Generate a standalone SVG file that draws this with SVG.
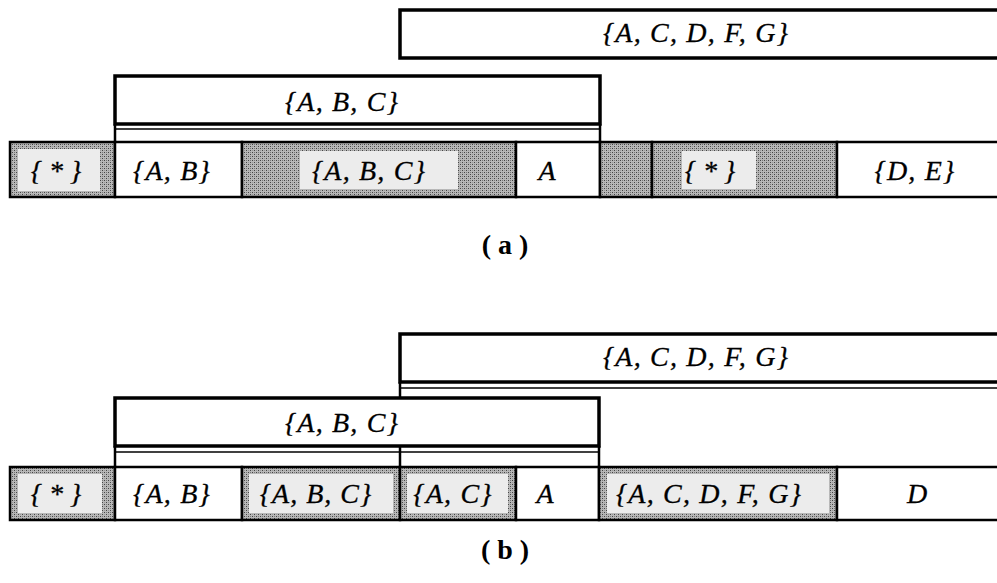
<svg xmlns="http://www.w3.org/2000/svg" width="997" height="583" viewBox="0 0 997 583">
<defs>
<pattern id="dither" width="4" height="4" patternUnits="userSpaceOnUse">
<rect width="4" height="4" fill="#b8b8b8"/>
<rect x="0" y="0" width="1" height="1" fill="#444"/>
<rect x="2" y="2" width="1" height="1" fill="#444"/>
<rect x="2" y="0" width="1" height="1" fill="#777"/>
<rect x="0" y="2" width="1" height="1" fill="#969696"/>
</pattern>
</defs>
<style>
.box{fill:#fff;stroke:#000;stroke-width:3.5}
.cell{fill:#fff;stroke:#000;stroke-width:2.5}
.shade{fill:url(#dither);stroke:#000;stroke-width:2.5}
.inner{fill:#ececec;stroke:none}
.t{font-family:"Liberation Serif","Times New Roman",serif;font-style:italic;font-size:28px;fill:#000;stroke:#000;stroke-width:0.3;text-anchor:middle}
.lbl{font-family:"Liberation Serif","Times New Roman",serif;font-weight:bold;font-size:28px;fill:#000;text-anchor:middle}
.ln{stroke:#000;stroke-width:2.5;fill:none}
.thin{stroke:#000;stroke-width:1.5;fill:none}
</style>
<rect width="997" height="583" fill="#fff"/>

<!-- (a) -->
<g id="a-acdfg"><rect class="box" x="400" y="10" width="610" height="48"/><text class="t" x="696" y="42" letter-spacing="1.2">{A, C, D, F, G}</text></g>
<g id="a-abc"><rect class="box" x="115" y="76" width="485" height="48"/><text class="t" x="342" y="111" letter-spacing="1.2">{A, B, C}</text></g>
<g id="a-c1"><rect class="shade" x="10" y="142" width="105" height="55"/><rect class="inner" x="18" y="149" width="82" height="42"/><text class="t" x="56" y="180">{ * }</text></g>
<g id="a-c2"><rect class="cell" x="115" y="142" width="127" height="55"/><text class="t" x="172" y="180" letter-spacing="1.2">{A, B}</text></g>
<g id="a-c3"><rect class="shade" x="242" y="142" width="274" height="55"/><rect class="inner" x="300" y="151" width="158" height="38"/><text class="t" x="369" y="180" letter-spacing="1.2">{A, B, C}</text></g>
<g id="a-c4"><rect class="cell" x="516" y="142" width="84" height="55"/><text class="t" x="547" y="180">A</text></g>
<g id="a-c5"><rect class="shade" x="600" y="142" width="52" height="55"/></g>
<g id="a-c6"><rect class="shade" x="652" y="142" width="185" height="55"/><rect class="inner" x="682" y="151" width="74" height="38"/><text class="t" x="710" y="180">{ * }</text></g>
<g id="a-c7"><rect class="cell" x="837" y="142" width="170" height="55"/><text class="t" x="915" y="180" letter-spacing="1.2">{D, E}</text></g>
<g id="a-label"><text class="lbl" x="505" y="254">( a )</text></g>

<!-- (b) -->
<g id="b-acdfg"><rect class="box" x="400" y="334" width="610" height="48"/><text class="t" x="696" y="366" letter-spacing="1.2">{A, C, D, F, G}</text></g>
<g id="b-abc"><rect class="box" x="115" y="398" width="484" height="48"/><text class="t" x="342" y="432" letter-spacing="1.2">{A, B, C}</text></g>
<g id="b-c1"><rect class="shade" x="10" y="467" width="105" height="53"/><rect class="inner" x="18" y="474" width="84" height="39"/><text class="t" x="56" y="503">{ * }</text></g>
<g id="b-c2"><rect class="cell" x="115" y="467" width="127" height="53"/><text class="t" x="172" y="503" letter-spacing="1.2">{A, B}</text></g>
<g id="b-c3"><rect class="shade" x="242" y="467" width="158" height="53"/><rect class="inner" x="249" y="474" width="144" height="39"/><text class="t" x="316" y="503" letter-spacing="1">{A, B, C}</text></g>
<g id="b-c4"><rect class="shade" x="400" y="467" width="116" height="53"/><rect class="inner" x="407" y="474" width="101" height="39"/><text class="t" x="453" y="503" letter-spacing="1.2">{A, C}</text></g>
<g id="b-c5"><rect class="cell" x="516" y="467" width="83" height="53"/><text class="t" x="545" y="503">A</text></g>
<g id="b-c6"><rect class="shade" x="599" y="467" width="238" height="53"/><rect class="inner" x="607" y="474" width="222" height="39"/><text class="t" x="709" y="503" letter-spacing="1.2">{A, C, D, F, G}</text></g>
<g id="b-c7"><rect class="cell" x="837" y="467" width="170" height="53"/><text class="t" x="917" y="503">D</text></g>
<g id="b-label"><text class="lbl" x="505" y="559">( b )</text></g>

<g id="connectors">
<line class="ln" x1="115" y1="124" x2="115" y2="142"/>
<line class="ln" x1="600" y1="124" x2="600" y2="142"/>
<line class="thin" x1="115" y1="129" x2="600" y2="129"/>
<line class="thin" x1="400" y1="388" x2="997" y2="388"/>
<line class="ln" x1="400" y1="382" x2="400" y2="398"/>
<line class="ln" x1="400" y1="446" x2="400" y2="467"/>
<line class="ln" x1="115" y1="446" x2="115" y2="467"/>
<line class="ln" x1="599" y1="446" x2="599" y2="467"/>
<line class="thin" x1="115" y1="452" x2="599" y2="452"/>
</g>
</svg>
